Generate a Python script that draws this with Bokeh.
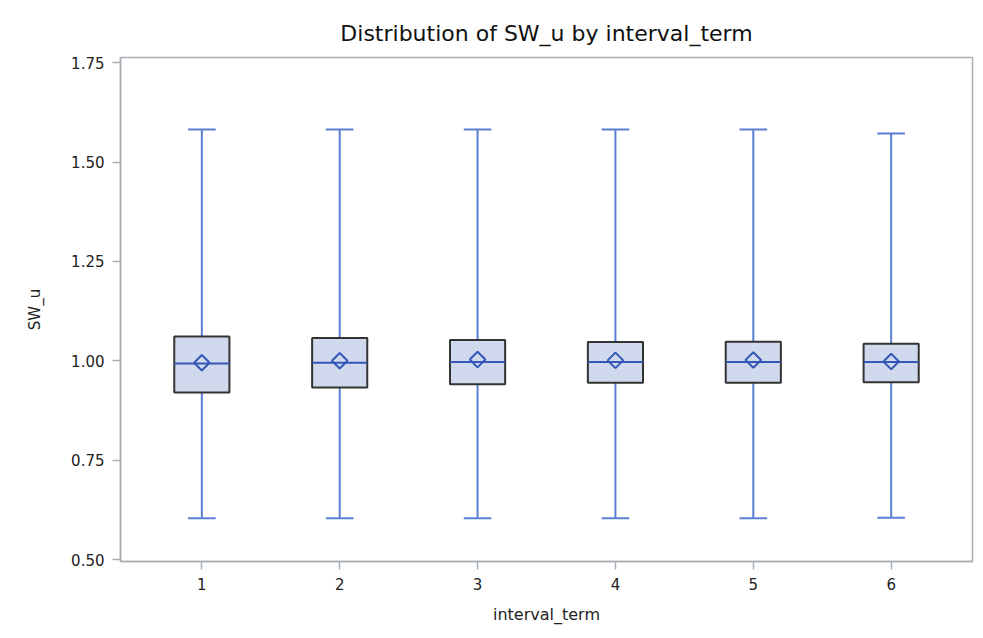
from bokeh.plotting import figure
from bokeh.models import FixedTicker, NumeralTickFormatter, Range1d, ColumnDataSource
from bokeh.transform import dodge
from bokeh.embed import file_html
from bokeh.resources import INLINE

categories = ["1", "2", "3", "4", "5", "6"]
whisker_low = [0.604, 0.604, 0.604, 0.604, 0.604, 0.605]
q1 = [0.920, 0.933, 0.941, 0.945, 0.945, 0.946]
median = [0.993, 0.995, 0.997, 0.997, 0.997, 0.997]
q3 = [1.061, 1.057, 1.052, 1.047, 1.048, 1.043]
whisker_high = [1.582, 1.582, 1.582, 1.582, 1.582, 1.572]
mean = [0.995, 1.000, 1.003, 1.001, 1.002, 0.998]
y_ticks = [0.50, 0.75, 1.00, 1.25, 1.50, 1.75]

xs = [int(c) for c in categories]
src = ColumnDataSource(dict(x=xs, lo=whisker_low, q1=q1, med=median, q3=q3,
                            hi=whisker_high, mean=mean))

FONT = "DejaVu Sans"
WHISK = "#5a7fd2"
MED = "#3457b8"

p = figure(width=983, height=638, output_backend="svg", toolbar_location=None,
           x_range=Range1d(0.41, 6.59), y_range=Range1d(0.495, 1.763),
           title="Distribution of SW_u by interval_term",
           min_border_left=120, min_border_right=11, min_border_top=57,
           min_border_bottom=77)

p.background_fill_color = "white"
p.border_fill_color = "white"
p.outline_line_color = "#a9aeb4"
p.outline_line_width = 1.5
p.xgrid.visible = False
p.ygrid.visible = False

p.title.align = "center"
p.title.text_font = FONT
p.title.text_font_size = "22px"
p.title.text_font_style = "normal"
p.title.text_color = "#111111"
p.title.standoff = 24

for ax in (p.xaxis[0], p.yaxis[0]):
    ax.axis_line_color = "#a9aeb4"
    ax.axis_line_width = 1.5
    ax.major_tick_line_color = "#a9aeb4"
    ax.major_tick_line_width = 1.5
    ax.major_tick_out = 8
    ax.major_tick_in = 0
    ax.minor_tick_line_color = None
    ax.major_label_text_font = FONT
    ax.major_label_text_font_size = "15px"
    ax.major_label_text_color = "#222222"
    ax.axis_label_text_font = FONT
    ax.axis_label_text_font_style = "normal"
    ax.axis_label_text_color = "#222222"

p.xaxis.ticker = FixedTicker(ticks=xs)
p.xaxis.major_label_overrides = {x: c for x, c in zip(xs, categories)}
p.xaxis.axis_label = "interval_term"
p.xaxis.axis_label_text_font_size = "16px"
p.xaxis.major_label_standoff = 8
p.xaxis.axis_label_standoff = 12

p.yaxis.ticker = FixedTicker(ticks=y_ticks)
p.yaxis.formatter = NumeralTickFormatter(format="0.00")
p.yaxis.axis_label = "SW_u"
p.yaxis.axis_label_text_font_size = "15px"
p.yaxis.major_label_standoff = 8
p.yaxis.axis_label_standoff = 24

# whiskers
p.segment(x0="x", y0="q3", x1="x", y1="hi", source=src, line_color=WHISK, line_width=2)
p.segment(x0="x", y0="lo", x1="x", y1="q1", source=src, line_color=WHISK, line_width=2)
p.segment(x0=dodge("x", -0.1), y0="hi", x1=dodge("x", 0.1), y1="hi", source=src,
          line_color=WHISK, line_width=2)
p.segment(x0=dodge("x", -0.1), y0="lo", x1=dodge("x", 0.1), y1="lo", source=src,
          line_color=WHISK, line_width=2)

# boxes
p.vbar(x="x", bottom="q1", top="q3", width=0.4, source=src,
       fill_color="#d3dcee", line_color="#333333", line_width=2,
       hatch_pattern="diagonal_cross", hatch_color="#c5cfe6", hatch_scale=4, hatch_weight=0.5)
p.segment(x0=dodge("x", -0.2), y0="med", x1=dodge("x", 0.2), y1="med", source=src,
          line_color=MED, line_width=2)
p.scatter(x="x", y="mean", marker="square", angle=0.785398, size=11, source=src,
          fill_color=None, line_color=MED, line_width=2)

open("out.html", "w").write(file_html(p, INLINE))
